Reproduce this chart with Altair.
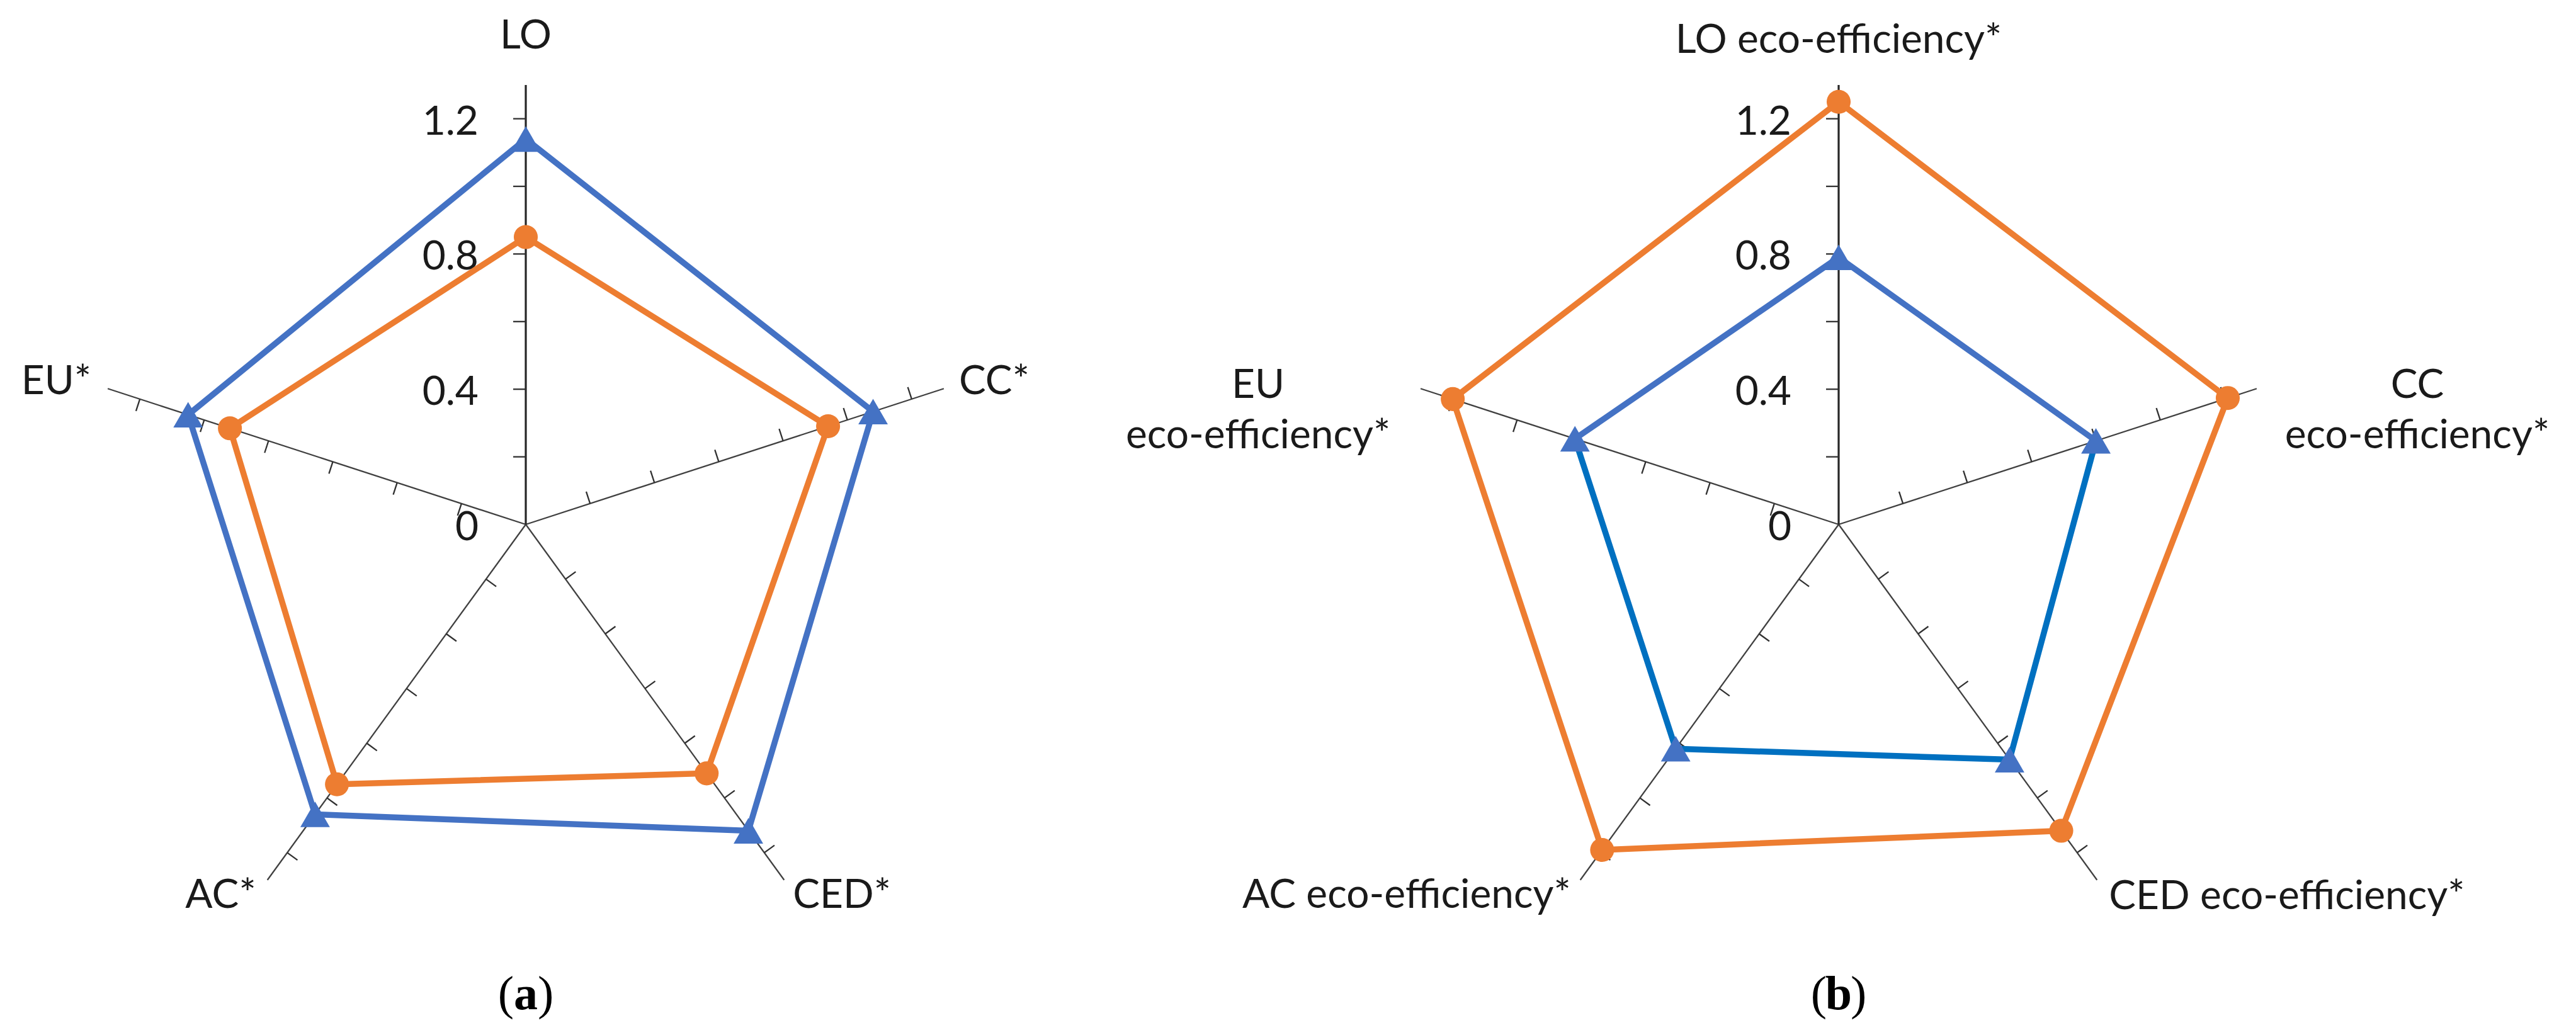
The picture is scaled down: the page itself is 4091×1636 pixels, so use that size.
import altair as alt
import pandas as pd

# ---------------- data ----------------
categories_a = ["LO", "CC*", "CED*", "AC*", "EU*"]
categories_b = ["LO eco-efficiency*", "CC\neco-efficiency*", "CED eco-efficiency*",
                "AC eco-efficiency*", "EU\neco-efficiency*"]
blue_a = [1.14, 1.08, 1.12, 1.06, 1.05]
orange_a = [0.85, 0.94, 0.91, 0.95, 0.92]
blue_b = [0.79, 0.80, 0.86, 0.82, 0.82]
orange_b = [1.25, 1.21, 1.12, 1.19, 1.20]
tick_label_values = [0, 0.4, 0.8, 1.2]
tick_label_texts = ["0", "0.4", "0.8", "1.2"]
minor_tick_values = [0.2, 0.4, 0.6, 0.8, 1.0, 1.2]
axis_max = 1.3

# ---------------- style / layout ----------------
PX = 537.0            # pixels per unit radius
W, H = 4075, 1620     # whole chart (page minus 8px margins)
CXA, CXB, CY = 827, 2912, 825   # panel centres in chart pixels
ORANGE = "#ED7D31"
BLUE = "#4472C4"
BLUE_DARK = "#0070C0"
FONT = "Lato"
FS = 64
TEXT_COLOR = "#1a1a1a"
TICK_LEN = 20.0 / PX
ANG = "datum.idx * 2 * PI / 5"

xs = alt.Scale(domain=[-CXA / PX, (W - CXA) / PX], nice=False, zero=False)
ys = alt.Scale(domain=[-(H - CY) / PX, CY / PX], nice=False, zero=False)


def X(f):
    return alt.X(f, type="quantitative", scale=xs, axis=None)


def Y(f):
    return alt.Y(f, type="quantitative", scale=ys, axis=None)


def panel_layers(cats, blue, orange, cx, label_specs, caption, dark_segs):
    off = (cx - CXA) / PX
    axes_df = pd.DataFrame({"idx": list(range(5)), "cat": cats})

    spoke_base = alt.Chart(axes_df).transform_calculate(
        ang=ANG, x0=f"{off}", y0="0",
        x1=f"{off} + {axis_max} * sin(datum.ang)", y1=f"{axis_max} * cos(datum.ang)")
    spokes = spoke_base.transform_filter("datum.idx > 0").mark_rule(
        color="#404040", strokeWidth=2.3).encode(
        x=X("x0"), y=Y("y0"), x2="x1:Q", y2="y1:Q")
    lo_axis = spoke_base.transform_filter("datum.idx == 0").mark_rule(
        color="#262626", strokeWidth=3.2).encode(
        x=X("x0"), y=Y("y0"), x2="x1:Q", y2="y1:Q")

    ticks_df = pd.DataFrame([{"idx": i, "t": t} for i in range(5) for t in minor_tick_values])
    ticks = alt.Chart(ticks_df).transform_calculate(
        ang=ANG,
        px=f"{off} + datum.t * sin(datum.ang)", py="datum.t * cos(datum.ang)",
        qx=f"datum.px - {TICK_LEN} * cos(datum.ang)",
        qy=f"datum.py + {TICK_LEN} * sin(datum.ang)").mark_rule(
        color="#303030", strokeWidth=2.3).encode(
        x=X("px"), y=Y("py"), x2="qx:Q", y2="qy:Q")

    tl_df = pd.DataFrame({"v": tick_label_values, "txt": tick_label_texts})
    tick_labels = alt.Chart(tl_df).transform_calculate(x0=f"{off}").mark_text(
        align="right", baseline="middle", dx=-75, dy=6, font=FONT, fontSize=FS,
        color=TEXT_COLOR).encode(x=X("x0"), y=Y("v"), text="txt:N")

    def segs(vals):
        return pd.DataFrame([{"seg": i, "v0": vals[i], "v1": vals[(i + 1) % 5]} for i in range(5)])

    def seg_layer(vals, color_expr):
        return alt.Chart(segs(vals)).transform_calculate(
            a0="datum.seg * 2 * PI / 5", a1="(datum.seg + 1) * 2 * PI / 5",
            x0=f"{off} + datum.v0 * sin(datum.a0)", y0="datum.v0 * cos(datum.a0)",
            x1=f"{off} + datum.v1 * sin(datum.a1)", y1="datum.v1 * cos(datum.a1)").mark_rule(
            strokeWidth=9.5, strokeCap="round").encode(
            x=X("x0"), y=Y("y0"), x2="x1:Q", y2="y1:Q", color=color_expr)

    if dark_segs:
        blue_color = alt.condition(alt.FieldOneOfPredicate(field="seg", oneOf=dark_segs),
                                   alt.value(BLUE_DARK), alt.value(BLUE))
    else:
        blue_color = alt.value(BLUE)
    blue_lines = seg_layer(blue, blue_color)
    orange_lines = seg_layer(orange, alt.value(ORANGE))

    def pts(vals):
        return pd.DataFrame({"idx": list(range(5)), "v": vals})

    def pt_calc(c):
        return c.transform_calculate(ang=ANG, x=f"{off} + datum.v * sin(datum.ang)",
                                     y="datum.v * cos(datum.ang)")

    blue_pts = pt_calc(alt.Chart(pts(blue))).mark_point(
        shape="triangle-up", filled=True, size=2200, color=BLUE, opacity=1).encode(
        x=X("x"), y=Y("y"))
    orange_pts = pt_calc(alt.Chart(pts(orange))).mark_point(
        shape="circle", filled=True, size=1450, color=ORANGE, opacity=1).encode(
        x=X("x"), y=Y("y"))

    label_layers = []
    for i, (align, dx, dy) in enumerate(label_specs):
        lay = alt.Chart(axes_df).transform_filter(f"datum.idx == {i}").transform_calculate(
            ang=ANG, x1=f"{off} + {axis_max} * sin(datum.ang)",
            y1=f"{axis_max} * cos(datum.ang)").mark_text(
            align=align, baseline="middle", dx=dx, dy=dy, font=FONT, fontSize=FS,
            color=TEXT_COLOR, lineBreak="\n", lineHeight=80).encode(
            x=X("x1"), y=Y("y1"), text="cat:N")
        label_layers.append(lay)

    cap_df = pd.DataFrame({"o": ["("], "m": [caption], "c": [")"]})
    cap_y = 1572
    cap_open = alt.Chart(cap_df).mark_text(
        align="right", baseline="middle", dx=-19, font="Liberation Serif", fontSize=76,
        color="#000000").encode(x=alt.value(cx), y=alt.value(cap_y), text="o:N")
    cap_mid = alt.Chart(cap_df).mark_text(
        align="center", baseline="middle", font="Liberation Serif", fontSize=76,
        fontWeight="bold", color="#000000").encode(x=alt.value(cx), y=alt.value(cap_y), text="m:N")
    cap_close = alt.Chart(cap_df).mark_text(
        align="left", baseline="middle", dx=19, font="Liberation Serif", fontSize=76,
        color="#000000").encode(x=alt.value(cx), y=alt.value(cap_y), text="c:N")

    return [spokes, lo_axis, ticks, tick_labels, blue_lines, orange_lines,
            blue_pts, orange_pts, *label_layers, cap_open, cap_mid, cap_close]


labels_a = [("center", 0, -77), ("left", 24, -10), ("left", 14, 25),
            ("right", -18, 25), ("right", -26, -10)]
labels_b = [("center", 0, -70), ("center", 255, -4), ("left", 19, 27),
            ("right", -15, 25), ("center", -258, -4)]

layers = (panel_layers(categories_a, blue_a, orange_a, CXA, labels_a, "a", [])
          + panel_layers(categories_b, blue_b, orange_b, CXB, labels_b, "b", [1, 2, 3]))

chart = alt.layer(*layers).properties(
    width=W, height=H, padding=0, background="white",
    autosize=alt.AutoSizeParams(type="none")).configure_view(strokeWidth=0)

chart.save("out.html", embed_options={"renderer": "svg", "actions": False})
